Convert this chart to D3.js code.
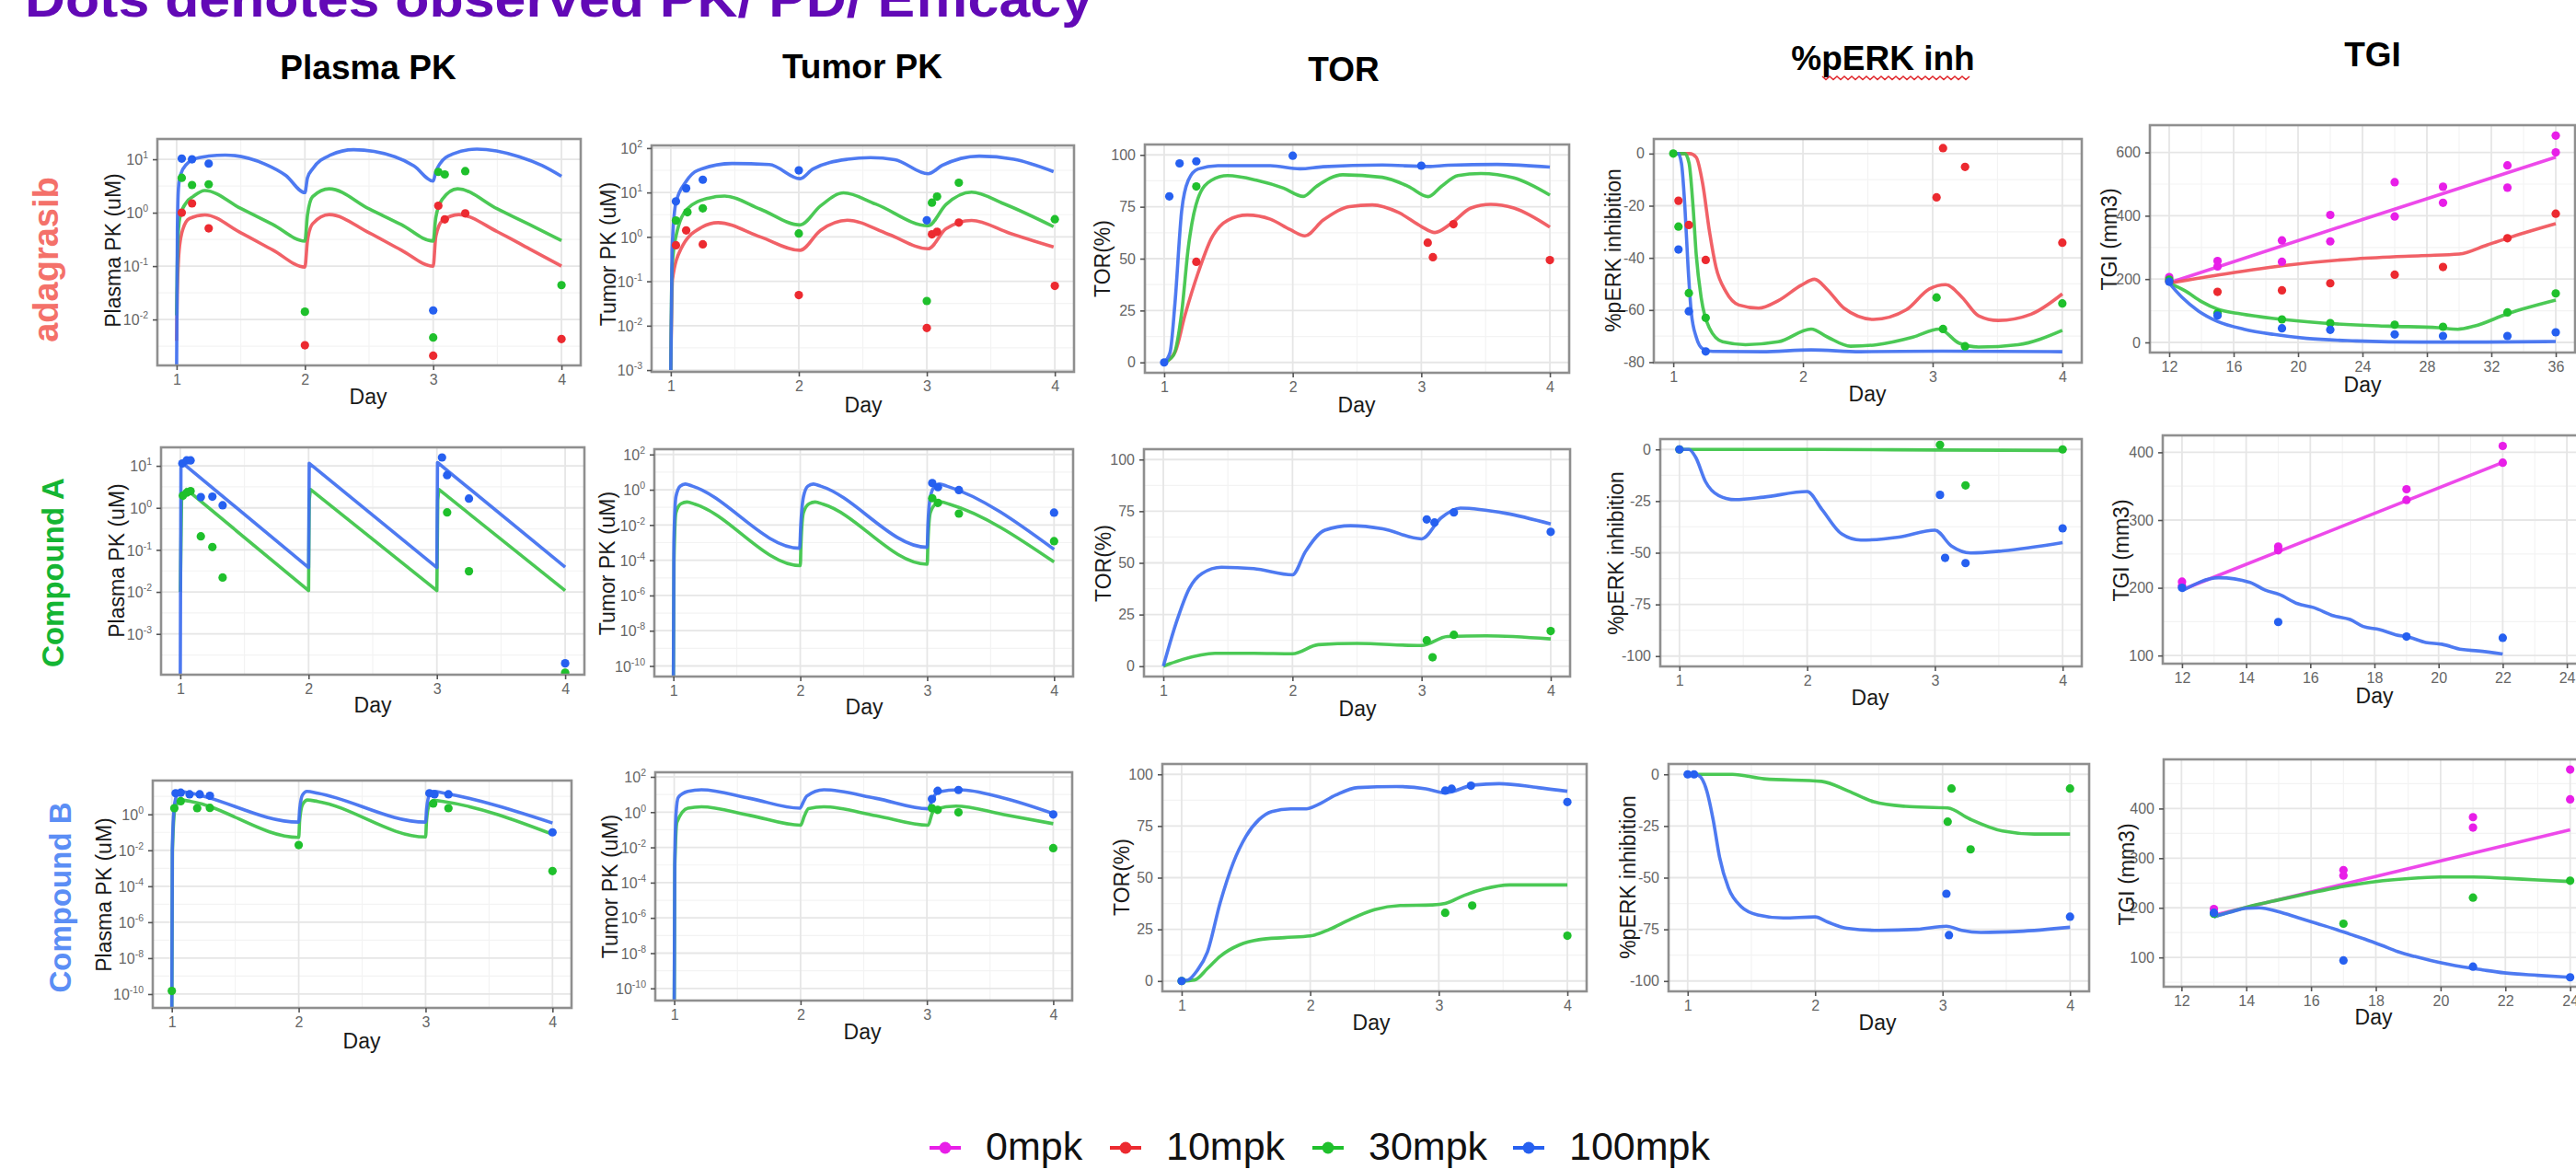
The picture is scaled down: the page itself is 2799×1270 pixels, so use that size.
<!DOCTYPE html>
<html>
<head>
<meta charset="utf-8">
<script src="https://cdn.jsdelivr.net/npm/d3@7"></script>
<style>
  body { margin: 0; background: #fff; }
  svg text { font-family: "Liberation Sans", Arial, sans-serif; }
</style>
</head>
<body>
<svg id="chart" width="2799" height="1270"></svg>
<script>
// ---- doses / legend ----
const doses = ['0mpk', '10mpk', '30mpk', '100mpk']
const lineColors = { '0mpk': '#ec3ae8', '10mpk': '#f0545a', '30mpk': '#3cc447', '100mpk': '#3f6ff0' }
const dotColors = { '0mpk': '#e81ee8', '10mpk': '#ec2a30', '30mpk': '#1fc02c', '100mpk': '#2660f0' }

const columnTitles = ['Plasma PK', 'Tumor PK', 'TOR', '%pERK inh', 'TGI']
const rowTitles = ['adagrasib', 'Compound A', 'Compound B']
const rowColors = ['#f4716a', '#14b533', '#5b8ef5']
const mainTitle = 'Dots denotes observed PK/ PD/ Efficacy'

const dayTicks = [1, 2, 3, 4]
const tgiTicksLong = [12, 16, 20, 24, 28, 32, 36]
const tgiTicksShort = [12, 14, 16, 18, 20, 22, 24]

// ---- adagrasib ----
const adaPlasmaLines = {
  '10mpk': [[1,0.004],[1.005,0.03],[1.02,0.2],[1.05,0.5],[1.1,0.78],[1.22,0.91],[1.5,0.42],[1.75,0.2],[2,0.096],[2.02,0.3],[2.06,0.62],[2.19,0.92],[2.5,0.42],[2.75,0.2],[3,0.1],[3.02,0.35],[3.07,0.7],[3.2,0.92],[3.5,0.44],[3.75,0.21],[4,0.1]],
  '30mpk': [[1,0.012],[1.005,0.1],[1.015,0.5],[1.03,0.91],[1.08,1.6],[1.13,2.02],[1.22,2.6],[1.5,1.2],[1.75,0.6],[2,0.295],[2.02,0.9],[2.06,2],[2.19,2.8],[2.5,1.18],[2.75,0.6],[3,0.295],[3.02,0.8],[3.07,1.77],[3.19,2.8],[3.5,1.18],[3.75,0.6],[4,0.3]],
  '100mpk': [[1,0.0012],[1.006,0.5],[1.015,3],[1.03,5.1],[1.08,8.2],[1.13,10],[1.25,11.5],[1.38,12],[1.69,8.1],[1.85,5],[2,2.37],[2.02,4.5],[2.06,6.6],[2.2,12],[2.38,15.1],[2.7,11.2],[2.85,7.5],[3,3.9],[3.02,5.8],[3.05,8.1],[3.15,12.5],[3.34,15.5],[3.67,11.2],[3.85,7.6],[4,4.8]]
}
const adaPlasmaDots = {
  '10mpk': [[1.04,1.0],[1.12,1.49],[1.25,0.51],[2,0.0033],[3,0.0021],[3.04,1.35],[3.09,0.75],[3.25,0.97],[4,0.0043]],
  '30mpk': [[1.04,4.5],[1.12,3.3],[1.25,3.4],[2,0.014],[3,0.0046],[3.04,5.8],[3.09,5.2],[3.25,6.0],[4,0.044]],
  '100mpk': [[1.04,10.3],[1.12,10],[1.25,8.3],[3,0.0148]]
}
const adaTumorLines = {
  '10mpk': [[1,0.001],[1.013,0.11],[1.08,0.54],[1.24,1.64],[1.37,2.09],[1.7,1.0],[2.01,0.5],[2.17,1.41],[2.38,2.37],[2.7,1.15],[3.01,0.54],[3.15,1.52],[3.35,2.34],[3.65,1.2],[3.99,0.59]],
  '30mpk': [[1,0.001],[1.01,0.2],[1.04,1.02],[1.13,4.3],[1.29,7.4],[1.42,8.3],[1.7,4.2],[2.01,1.86],[2.17,5],[2.35,9.8],[2.6,5.5],[3.01,1.78],[3.15,5.4],[3.35,10.2],[3.6,5.6],[3.99,1.7]],
  '100mpk': [[1,0.001],[1.01,0.5],[1.04,5.9],[1.12,17.8],[1.21,31.5],[1.48,45],[1.77,42.7],[2.01,20.5],[2.11,33.9],[2.38,56],[2.56,61],[2.75,55],[3.01,26.5],[3.12,40.7],[3.41,66],[3.68,56],[3.99,29.5]]
}
const adaTumorDots = {
  '10mpk': [[1.04,0.65],[1.12,1.4],[1.25,0.68],[2,0.049],[3,0.0089],[3.04,1.14],[3.08,1.3],[3.25,2.1],[4,0.079]],
  '30mpk': [[1.04,2.34],[1.13,3.6],[1.25,4.4],[2,1.19],[3,0.036],[3.04,5.9],[3.08,8.1],[3.25,16.6],[4,2.5]],
  '100mpk': [[1.04,6.3],[1.12,12.4],[1.25,19.4],[2,31.5],[3,2.37]]
}
const adaTorLines = {
  '10mpk': [[1,0],[1.084,4.9],[1.161,22.6],[1.263,43],[1.366,59.6],[1.494,68.5],[1.647,71],[1.826,69],[1.98,64],[2.095,61],[2.235,68.5],[2.44,75.1],[2.619,75.9],[2.824,72.2],[3,65.5],[3.105,62.6],[3.233,67],[3.386,74.4],[3.54,76.2],[3.72,74.4],[4,65.2]],
  '30mpk': [[1,0],[1.072,3.4],[1.136,24],[1.187,55],[1.263,79],[1.366,87.7],[1.494,90],[1.724,87.7],[1.928,84],[2.082,80],[2.184,84.8],[2.389,90.4],[2.696,89.2],[2.9,84.8],[3.054,79.9],[3.156,84.8],[3.284,90],[3.463,91],[3.72,88.9],[4,80.6]],
  '100mpk': [[1,0],[1.046,4.9],[1.084,28.6],[1.136,73],[1.187,87.7],[1.263,93.2],[1.417,94.8],[1.826,94.8],[2.056,93.3],[2.235,94.3],[2.696,95.1],[3.054,94.4],[3.207,95],[3.59,95.4],[4,94.1]]
}
const adaTorDots = {
  '10mpk': [[1.25,48.5],[3.05,57.7],[3.09,50.7],[3.25,66.6],[4,49.3]],
  '30mpk': [[1.25,84.8]],
  '100mpk': [[1,0],[1.04,80],[1.12,95.9],[1.25,96.9],[2,99.6],[3,94.8]]
}
const adaPerkLines = {
  '10mpk': [[1,0],[1.127,0],[1.177,-1.4],[1.228,-11.9],[1.278,-29.5],[1.329,-43.5],[1.405,-52.9],[1.506,-58.1],[1.658,-59.3],[1.81,-56.4],[1.987,-50.5],[2.089,-48.2],[2.19,-52.3],[2.316,-59.3],[2.544,-63.6],[2.797,-59.9],[2.975,-51.9],[3.101,-50.3],[3.228,-55.2],[3.354,-62.2],[3.506,-64],[3.759,-61.6],[4,-53.8]],
  '30mpk': [[1,0],[1.089,0],[1.122,-3.7],[1.152,-20],[1.177,-38.8],[1.215,-55.2],[1.278,-66.9],[1.38,-72.2],[1.557,-73.3],[1.81,-72.2],[2.063,-67.3],[2.19,-70.4],[2.367,-73.9],[2.57,-73.3],[2.848,-70.4],[3.051,-67.3],[3.203,-72.7],[3.354,-74.2],[3.658,-73.3],[4,-67.8]],
  '100mpk': [[1,0],[1.038,0],[1.063,-3.7],[1.089,-20],[1.114,-43.5],[1.139,-61],[1.177,-70.4],[1.228,-74.9],[1.304,-75.9],[1.684,-76],[2.063,-75.3],[2.443,-76],[3.076,-75.8],[4,-76]]
}
const adaPerkDots = {
  '10mpk': [[1.04,-18.1],[1.12,-27.4],[1.25,-40.8],[3.03,-16.8],[3.08,2.1],[3.25,-5.1],[4,-34.2]],
  '30mpk': [[1,0],[1.04,-28],[1.12,-53.5],[1.25,-63],[3.03,-55.2],[3.08,-67.3],[3.25,-73.9],[4,-57.5]],
  '100mpk': [[1.04,-36.8],[1.12,-60.5],[1.25,-75.9]]
}
const adaTgiLines = {
  '0mpk': [[12,188],[24,388],[36,585]],
  '10mpk': [[12,187],[15.43,216],[19.5,245],[23.6,264],[27.67,274],[30,279],[31.76,308],[33.8,342],[36,375]],
  '30mpk': [[12,187],[12.98,163],[14,129],[15.02,104.5],[16.45,90],[18.49,75.5],[21.55,61],[25.63,51.3],[28.7,46.5],[29.92,41.6],[30.94,51.3],[32.98,90],[36,133.5]],
  '100mpk': [[12,187],[12.78,143],[13.8,99.7],[15.02,65.8],[16.65,41.6],[18.49,25.2],[20.53,12.6],[23.6,4.8],[27.67,1],[31.7,1],[36,2.9]]
}
const adaTgiDots = {
  '0mpk': [[12,206],[15,257],[15,240],[19,322],[19,254.5],[22,402.6],[22,319],[26,506],[26,397.7],[29,491.6],[29,441],[33,559],[33,488.7],[36,653],[36,600]],
  '10mpk': [[12,193.5],[15,159.7],[19,164.5],[22,186.8],[26,213.9],[29,238],[33,329],[36,406.4]],
  '30mpk': [[12,198.4],[15,92],[19,72.6],[22,61],[26,56],[29,49.4],[33,94.8],[36,154.8]],
  '100mpk': [[12,191.6],[15,85],[19,44.5],[22,39.7],[26,25.2],[29,20.3],[33,20.3],[36,32]]
}

// ---- Compound A ----
const cpaPlasmaLines = {
  '30mpk': [[1,0.01],[1.01,1.5],[1.048,2.75],[2,0.0107],[2.005,1.5],[2.014,2.75],[3,0.0107],[3.007,1.5],[3.015,2.75],[4,0.0107]],
  '100mpk': [[1,0.0001],[1.005,9],[1.02,11.5],[2,0.038],[2.005,11.5],[3,0.038],[3.005,12],[4,0.039]]
}
const cpaPlasmaDots = {
  '30mpk': [[1.02,1.96],[1.05,2.3],[1.08,2.5],[1.16,0.21],[1.25,0.117],[1.33,0.022],[3.08,0.78],[3.25,0.031],[4,0.00012]],
  '100mpk': [[1.016,11.4],[1.05,13.5],[1.08,13.5],[1.16,1.8],[1.25,1.85],[1.33,1.15],[3.04,15.8],[3.08,6.0],[3.25,1.66],[4,0.0002]]
}
const cpaTumorLines = {
  '30mpk': [[1,1e-11],[1.005,1e-4],[1.02,0.05],[1.06,0.16],[1.108,0.2],[1.17,0.15],[2,4.9e-5],[2.006,1e-3],[2.025,0.05],[2.07,0.16],[2.117,0.2],[2.18,0.15],[3,5.9e-5],[3.006,1e-3],[3.025,0.05],[3.07,0.16],[3.112,0.2],[3.175,0.15],[4,7.9e-5]],
  '100mpk': [[1,1e-11],[1.004,1e-3],[1.02,0.4],[1.054,1.6],[1.094,2.1],[1.15,1.6],[1.995,4.8e-4],[2.004,0.01],[2.025,0.4],[2.06,1.6],[2.103,2.1],[2.16,1.6],[3,5.4e-4],[3.006,0.01],[3.025,0.4],[3.06,1.6],[3.098,2.1],[3.155,1.6],[4,4.1e-4]]
}
const cpaTumorDots = {
  '30mpk': [[3.04,0.33],[3.085,0.18],[3.25,0.044],[4,0.0012]],
  '100mpk': [[3.04,2.4],[3.085,1.4],[3.25,0.96],[4,0.05]]
}
const cpaTorLines = {
  '30mpk': [[1,0],[1.15,3.3],[1.4,6.25],[1.7,6.25],[2,6],[2.2,10.4],[2.5,11],[3,10],[3.2,14.4],[3.5,14.7],[4,13.2]],
  '100mpk': [[1,0],[1.1,21.1],[1.2,37.5],[1.3,44.9],[1.45,47.9],[1.7,47.2],[2,44.2],[2.1,55.4],[2.25,65.8],[2.45,68],[2.7,66.5],[3,61.6],[3.15,71.7],[3.3,76.5],[3.65,74],[4,68.8]]
}
const cpaTorDots = {
  '30mpk': [[3.04,12.5],[3.085,4.3],[3.25,15.2],[4,17]],
  '100mpk': [[3.04,71],[3.1,69.5],[3.25,74.4],[4,65]]
}
const cpaPerkLines = {
  '30mpk': [[1,0],[2,0],[3,-0.3],[4,-0.5]],
  '100mpk': [[1,0],[1.075,0],[1.127,-3.8],[1.204,-15.6],[1.307,-22.3],[1.437,-24.3],[1.66,-23.1],[2,-20.4],[2.115,-29],[2.27,-40.9],[2.42,-43.9],[2.72,-42.4],[3,-39.1],[3.13,-46.8],[3.28,-50.1],[3.53,-49.1],[4,-45.1]]
}
const cpaPerkDots = {
  '30mpk': [[1,0],[3.04,2.2],[3.24,-17.4],[4,0]],
  '100mpk': [[1,0],[3.04,-22],[3.08,-52.5],[3.24,-55],[4,-38.2]]
}
const cpaTgiLines = {
  '0mpk': [[12,197],[22,385]],
  '100mpk': [[12,195.5],[13.15,214.9],[14.12,208],[14.58,196.8],[15.04,190],[15.6,176.6],[16.11,170.7],[16.73,158.6],[17.24,153.2],[17.65,142.8],[18.16,138.3],[18.67,130.6],[19.08,127],[19.6,119.4],[20.1,116.7],[20.72,109],[21.23,106.8],[22,102.3]]
}
const cpaTgiDots = {
  '0mpk': [[12,209],[12,202.7],[15,260.8],[15,255.4],[19,345.5],[19,329.7],[22,409.4],[22,384.7]],
  '100mpk': [[12,200],[15,149.5],[19,128],[22,126.1]]
}

// ---- Compound B ----
const cpbPlasmaLines = {
  '30mpk': [[1,1e-11],[1.005,1e-2],[1.025,2],[1.07,6.3],[1.15,5.2],[2,0.052],[2.008,0.5],[2.03,3.5],[2.07,6.3],[2.15,5.2],[3,0.055],[3.008,0.5],[3.03,3.5],[3.07,5.9],[3.15,5],[4,0.078]],
  '100mpk': [[1,1e-11],[1.004,1e-2],[1.02,3],[1.04,12],[1.065,19],[1.15,15],[2,0.37],[2.008,2],[2.03,12],[2.065,19],[2.15,15],[3,0.37],[3.008,2],[3.03,12],[3.065,19],[3.15,15],[4,0.33]]
}
const cpbPlasmaDots = {
  '30mpk': [[1,1.5e-10],[1.02,2.2],[1.07,5.4],[1.2,2.2],[1.3,2.3],[2,0.0195],[3.06,4],[3.18,2.2],[4,0.0007]],
  '100mpk': [[1.03,15],[1.07,16],[1.14,13],[1.22,13],[1.3,10.8],[3.03,15],[3.07,13],[3.18,13],[4,0.1]]
}
const cpbTumorLines = {
  '30mpk': [[1,1e-11],[1.005,1e-3],[1.022,0.27],[1.108,1.66],[1.215,2.0],[1.6,0.65],[2,0.18],[2.03,0.6],[2.063,1.58],[2.184,2.0],[2.6,0.62],[3.01,0.18],[3.04,0.8],[3.07,1.5],[3.23,2.19],[3.6,0.75],[4,0.22]],
  '100mpk': [[1,1e-11],[1.004,1e-3],[1.015,1],[1.032,6.8],[1.108,15],[1.215,18.5],[1.6,6],[1.995,1.66],[2.02,3.5],[2.049,8.1],[2.184,18.5],[2.6,6],[3.01,1.55],[3.04,4.5],[3.085,13.8],[3.26,18.5],[3.6,6.5],[4,0.83]]
}
const cpbTumorDots = {
  '30mpk': [[3.04,1.66],[3.085,1.35],[3.25,0.97],[4,0.009]],
  '100mpk': [[3.04,5.5],[3.085,16],[3.25,18],[4,0.74]]
}
const cpbTorLines = {
  '30mpk': [[1,0],[1.1,0.5],[1.2,6],[1.3,12],[1.45,17.5],[1.6,20],[1.8,21],[2,21.8],[2.15,25],[2.3,29.5],[2.5,34.5],[2.7,36.5],[2.95,36.8],[3.05,37.5],[3.2,41.5],[3.35,44.5],[3.55,46.5],[4,46.5]],
  '100mpk': [[1,0],[1.05,0.5],[1.12,5],[1.2,14],[1.3,38],[1.4,57],[1.5,70],[1.6,78],[1.7,82],[1.85,83.3],[1.97,83.3],[2.05,85],[2.2,90],[2.37,93.6],[2.67,94.1],[2.9,93],[3.05,91.1],[3.27,94.8],[3.47,95.5],[3.77,93.6],[4,91.8]]
}
const cpbTorDots = {
  '30mpk': [[1,0],[3.05,33],[3.26,36.5],[4,21.9]],
  '100mpk': [[1,0],[3.05,92.1],[3.1,93],[3.25,94.5],[4,86.6]]
}
const cpbPerkLines = {
  '30mpk': [[1,0],[1.35,0],[1.6,-2.2],[2.05,-3.4],[2.26,-8.1],[2.46,-13.3],[2.71,-15.5],[3.04,-16.3],[3.21,-21.5],[3.47,-27.4],[3.72,-28.9],[4,-28.9]],
  '100mpk': [[1,0],[1.08,-0.5],[1.15,-8],[1.2,-22],[1.25,-40],[1.32,-55],[1.42,-64],[1.55,-68],[1.75,-69.5],[2,-69],[2.1,-71.5],[2.25,-74.5],[2.5,-75.5],[2.8,-75],[3.03,-73.5],[3.15,-75.5],[3.3,-76.5],[3.6,-76],[4,-74]]
}
const cpbPerkDots = {
  '30mpk': [[3.04,-22.9],[3.07,-6.9],[3.22,-36.3],[4,-6.9]],
  '100mpk': [[1,0],[1.05,0],[3.03,-57.8],[3.05,-77.8],[4,-68.9]]
}
const cpbTgiLines = {
  '0mpk': [[13,185],[24,357]],
  '30mpk': [[13,182],[14,201],[15,216],[16,230],[17,243],[18,253],[19,259],[20,262],[21,262],[22,259.5],[23,256],[24,253]],
  '100mpk': [[13,182],[13.5,191],[14,199],[14.4,200],[15,192],[15.6,180],[16.2,168],[16.65,159],[17.2,147],[17.66,137],[18.2,124],[18.67,112],[19.2,102],[19.7,94],[20.2,87],[20.7,81],[21.3,75],[21.96,69],[23,64],[24,60]]
}
const cpbTgiDots = {
  '0mpk': [[13,197.7],[17,276],[17,265],[21,382.6],[21,361.6],[24,478.5],[24,418.5]],
  '30mpk': [[13,188],[17,168],[21,220.6],[24,254.6]],
  '100mpk': [[13,190],[17,94],[21,81.4],[24,60]]
}

// ---- panel layout (positions in px) ----
const panels = [
  { xr: [171, 631], yr: [151, 397], xd: [0.85, 4.15], yd: [-2.86, 1.38], log: true, yTicks: [1, 0, -1, -2], lines: adaPlasmaLines, dots: adaPlasmaDots, yTitle: 'Plasma PK (uM)', yt: [125, 272], day: [400, 433] },
  { xr: [708, 1167], yr: [158, 404], xd: [0.85, 4.15], yd: [-3.04, 2.06], log: true, yTicks: [2, 1, 0, -1, -2, -3], lines: adaTumorLines, dots: adaTumorDots, yTitle: 'Tumor PK (uM)', yt: [663, 276], day: [938, 442] },
  { xr: [1244, 1705], yr: [157, 405], xd: [0.85, 4.15], yd: [-5, 105], yTicks: [0, 25, 50, 75, 100], lines: adaTorLines, dots: adaTorDots, yTitle: 'TOR(%)', yt: [1200, 281], day: [1474, 442] },
  { xr: [1797, 2262], yr: [151, 394], xd: [0.85, 4.15], yd: [-80.2, 5.6], yTicks: [0, -20, -40, -60, -80], lines: adaPerkLines, dots: adaPerkDots, yTitle: '%pERK inhibition', yt: [1755, 272], day: [2029, 430] },
  { xr: [2336, 2798], yr: [136, 383], xd: [10.8, 37.2], yd: [-32, 686], xTicks: tgiTicksLong, yTicks: [0, 200, 400, 600], lines: adaTgiLines, dots: adaTgiDots, yTitle: 'TGI (mm3)', yt: [2294, 260], day: [2567, 420] },

  { xr: [175, 635], yr: [486, 733], xd: [0.85, 4.15], yd: [-3.97, 1.44], log: true, yTicks: [1, 0, -1, -2, -3], lines: cpaPlasmaLines, dots: cpaPlasmaDots, straight: true, yTitle: 'Plasma PK (uM)', yt: [129, 609], day: [405, 768] },
  { xr: [711, 1166], yr: [488, 735], xd: [0.85, 4.15], yd: [-10.6, 2.3], log: true, yTicks: [2, 0, -2, -4, -6, -8, -10], lines: cpaTumorLines, dots: cpaTumorDots, yTitle: 'Tumor PK (uM)', yt: [662, 612], day: [939, 770] },
  { xr: [1243, 1706], yr: [488, 735], xd: [0.85, 4.15], yd: [-5, 105], yTicks: [0, 25, 50, 75, 100], lines: cpaTorLines, dots: cpaTorDots, yTitle: 'TOR(%)', yt: [1201, 612], day: [1475, 772] },
  { xr: [1804, 2262], yr: [477, 724], xd: [0.85, 4.15], yd: [-105, 5], yTicks: [0, -25, -50, -75, -100], lines: cpaPerkLines, dots: cpaPerkDots, yTitle: '%pERK inhibition', yt: [1758, 601], day: [2032, 760] },
  { xr: [2350, 2810], yr: [473, 721], xd: [11.4, 24.6], yd: [88, 425], xTicks: tgiTicksShort, yTicks: [100, 200, 300, 400], lines: cpaTgiLines, dots: cpaTgiDots, yTitle: 'TGI (mm3)', yt: [2307, 598], day: [2580, 758] },

  { xr: [166, 621], yr: [848, 1095], xd: [0.85, 4.15], yd: [-10.77, 1.88], log: true, yTicks: [0, -2, -4, -6, -8, -10], lines: cpbPlasmaLines, dots: cpbPlasmaDots, yTitle: 'Plasma PK (uM)', yt: [115, 972], day: [393, 1133] },
  { xr: [712, 1165], yr: [839, 1087], xd: [0.85, 4.15], yd: [-10.69, 2.26], log: true, yTicks: [2, 0, -2, -4, -6, -8, -10], lines: cpbTumorLines, dots: cpbTumorDots, yTitle: 'Tumor PK (uM)', yt: [665, 963], day: [937, 1123] },
  { xr: [1263, 1724], yr: [830, 1077], xd: [0.85, 4.15], yd: [-5, 105], yTicks: [0, 25, 50, 75, 100], lines: cpbTorLines, dots: cpbTorDots, yTitle: 'TOR(%)', yt: [1221, 953], day: [1490, 1113] },
  { xr: [1813, 2270], yr: [830, 1077], xd: [0.85, 4.15], yd: [-105, 5], yTicks: [0, -25, -50, -75, -100], lines: cpbPerkLines, dots: cpbPerkDots, yTitle: '%pERK inhibition', yt: [1771, 953], day: [2040, 1113] },
  { xr: [2351, 2812], yr: [825, 1072], xd: [11.45, 24.55], yd: [41, 499], xTicks: tgiTicksShort, yTicks: [100, 200, 300, 400], lines: cpbTgiLines, dots: cpbTgiDots, yTitle: 'TGI (mm3)', yt: [2313, 950], day: [2579, 1107] }
]

const svg = d3.select('#chart')
svg.append('rect').attr('width', 2799).attr('height', 1270).attr('fill', '#fff')
const defs = svg.append('defs')

// midpoints between consecutive ticks, plus one beyond each end, kept inside the domain
function minorOf(ticks, lo, hi) {
  const t = ticks.slice().sort((a, b) => a - b)
  const step = t[1] - t[0]
  const out = [t[0] - step / 2]
  t.forEach(v => out.push(v + step / 2))
  return out.filter(v => v > lo && v < hi)
}

function drawPanel(p, i) {
  const x = d3.scaleLinear().domain(p.xd).range(p.xr)
  const y = p.log
    ? d3.scaleLog().domain(p.yd.map(e => 10 ** e)).range([p.yr[1], p.yr[0]])
    : d3.scaleLinear().domain(p.yd).range([p.yr[1], p.yr[0]])
  const xTicks = p.xTicks || dayTicks
  const yTickVals = p.log ? p.yTicks.map(e => 10 ** e) : p.yTicks
  const xMinor = minorOf(xTicks, p.xd[0], p.xd[1])
  const yMinorRaw = minorOf(p.yTicks, p.yd[0], p.yd[1])
  const yMinor = p.log ? yMinorRaw.map(e => 10 ** e) : yMinorRaw

  const g = svg.append('g')
  const [x0, x1] = p.xr
  const [y0, y1] = p.yr

  g.append('rect').attr('x', x0).attr('y', y0).attr('width', x1 - x0).attr('height', y1 - y0).attr('fill', '#fff')

  // grid
  g.selectAll('.gx-minor').data(xMinor).join('line')
    .attr('x1', d => x(d)).attr('x2', d => x(d)).attr('y1', y0).attr('y2', y1)
    .attr('stroke', '#f3f3f3').attr('stroke-width', 1.2)
  g.selectAll('.gy-minor').data(yMinor).join('line')
    .attr('x1', x0).attr('x2', x1).attr('y1', d => y(d)).attr('y2', d => y(d))
    .attr('stroke', '#f3f3f3').attr('stroke-width', 1.2)
  g.selectAll('.gx-major').data(xTicks).join('line')
    .attr('x1', d => x(d)).attr('x2', d => x(d)).attr('y1', y0).attr('y2', y1)
    .attr('stroke', '#e6e6e6').attr('stroke-width', 1.8)
  g.selectAll('.gy-major').data(yTickVals).join('line')
    .attr('x1', x0).attr('x2', x1).attr('y1', d => y(d)).attr('y2', d => y(d))
    .attr('stroke', '#e6e6e6').attr('stroke-width', 1.8)

  defs.append('clipPath').attr('id', 'clip' + i)
    .append('rect').attr('x', x0).attr('y', y0).attr('width', x1 - x0).attr('height', y1 - y0)
  const plot = g.append('g').attr('clip-path', `url(#clip${i})`)

  const line = d3.line()
    .x(d => x(d[0]))
    .y(d => y(d[1]))
    .curve(p.straight ? d3.curveLinear : d3.curveMonotoneX)

  doses.forEach(dose => {
    if (!p.lines[dose]) return
    plot.append('path')
      .datum(p.lines[dose])
      .attr('d', line)
      .attr('fill', 'none')
      .attr('stroke', lineColors[dose])
      .attr('stroke-width', 3.6)
      .attr('stroke-linejoin', 'round')
      .attr('opacity', 0.92)
  })
  doses.forEach(dose => {
    if (!p.dots[dose]) return
    plot.selectAll(null)
      .data(p.dots[dose])
      .join('circle')
      .attr('cx', d => x(d[0]))
      .attr('cy', d => y(d[1]))
      .attr('r', 4.6)
      .attr('fill', dotColors[dose])
  })

  g.append('rect').attr('x', x0).attr('y', y0).attr('width', x1 - x0).attr('height', y1 - y0)
    .attr('fill', 'none').attr('stroke', '#8f8f8f').attr('stroke-width', 2.6)

  // axes
  const xa = g.append('g')
    .attr('transform', `translate(0,${y1})`)
    .call(d3.axisBottom(x).tickValues(xTicks).tickSize(5).tickPadding(5).tickFormat(d => String(d)))
  const ya = g.append('g')
    .attr('transform', `translate(${x0},0)`)
    .call(d3.axisLeft(y).tickValues(yTickVals).tickSize(5).tickPadding(5).tickFormat(d => p.log ? '' : String(d)))
  ;[xa, ya].forEach(a => {
    a.select('.domain').remove()
    a.selectAll('.tick line').attr('stroke', '#555').attr('stroke-width', 1.6)
    a.selectAll('.tick text').attr('fill', '#666').attr('font-size', 16).attr('font-family', '"Liberation Sans", Arial, sans-serif')
  })
  if (p.log) {
    ya.selectAll('.tick text').each(function(d) {
      const t = d3.select(this).attr('dy', '0.36em')
      t.append('tspan').text('10')
      t.append('tspan').text(Math.round(Math.log10(d))).attr('font-size', 10.5).attr('dy', -7)
    })
  }

  g.append('text')
    .attr('transform', `translate(${p.yt[0]},${p.yt[1]}) rotate(-90)`)
    .attr('text-anchor', 'middle')
    .attr('dominant-baseline', 'middle')
    .attr('font-size', 23)
    .attr('fill', '#1a1a1a')
    .text(p.yTitle)
  g.append('text')
    .attr('x', p.day[0]).attr('y', p.day[1])
    .attr('text-anchor', 'middle')
    .attr('dominant-baseline', 'middle')
    .attr('font-size', 23)
    .attr('fill', '#1a1a1a')
    .text('Day')
}

panels.forEach(drawPanel)

// main title (cropped at the top edge, as in the source slide)
svg.append('text')
  .attr('x', 27).attr('y', 18)
  .attr('font-size', 56)
  .attr('font-weight', 'bold')
  .attr('fill', '#6209b6')
  .attr('textLength', 1160)
  .attr('lengthAdjust', 'spacingAndGlyphs')
  .text(mainTitle)

// column titles
const colTitlePos = [[400, 86], [937, 85], [1460, 88], [2046, 76], [2578, 72]]
svg.selectAll('.col-title')
  .data(columnTitles)
  .join('text')
  .attr('x', (d, i) => colTitlePos[i][0])
  .attr('y', (d, i) => colTitlePos[i][1])
  .attr('text-anchor', 'middle')
  .attr('font-size', 37)
  .attr('font-weight', 'bold')
  .attr('fill', '#000')
  .text(d => d)

// spell-check squiggle under "pERK inh"
const squiggle = d3.range(0, 41).map(k => [1980 + k * 4, 84 + (k % 2 ? 2.5 : -1)])
svg.append('path')
  .attr('d', d3.line()(squiggle))
  .attr('fill', 'none')
  .attr('stroke', '#e0262b')
  .attr('stroke-width', 1.6)

// row titles
const rowTitlePos = [[53, 282, 38], [60, 622, 33], [68, 975, 33]]
svg.selectAll('.row-title')
  .data(rowTitles)
  .join('text')
  .attr('transform', (d, i) => `translate(${rowTitlePos[i][0]},${rowTitlePos[i][1]}) rotate(-90)`)
  .attr('text-anchor', 'middle')
  .attr('dominant-baseline', 'middle')
  .attr('font-family', '"DejaVu Sans", Verdana, sans-serif')
  .attr('font-weight', 'bold')
  .attr('font-size', (d, i) => rowTitlePos[i][2])
  .attr('fill', (d, i) => rowColors[i])
  .text(d => d)

// legend
const legendX = [1027, 1223, 1443, 1661]
const legend = svg.append('g')
doses.forEach((dose, i) => {
  const cx = legendX[i]
  legend.append('line')
    .attr('x1', cx - 17).attr('x2', cx + 17).attr('y1', 1247).attr('y2', 1247)
    .attr('stroke', dotColors[dose]).attr('stroke-width', 4)
  legend.append('circle')
    .attr('cx', cx).attr('cy', 1247).attr('r', 6.5)
    .attr('fill', dotColors[dose])
  legend.append('text')
    .attr('x', cx + 44).attr('y', 1260)
    .attr('font-size', 43)
    .attr('fill', '#111')
    .text(dose)
})
</script>
</body>
</html>
